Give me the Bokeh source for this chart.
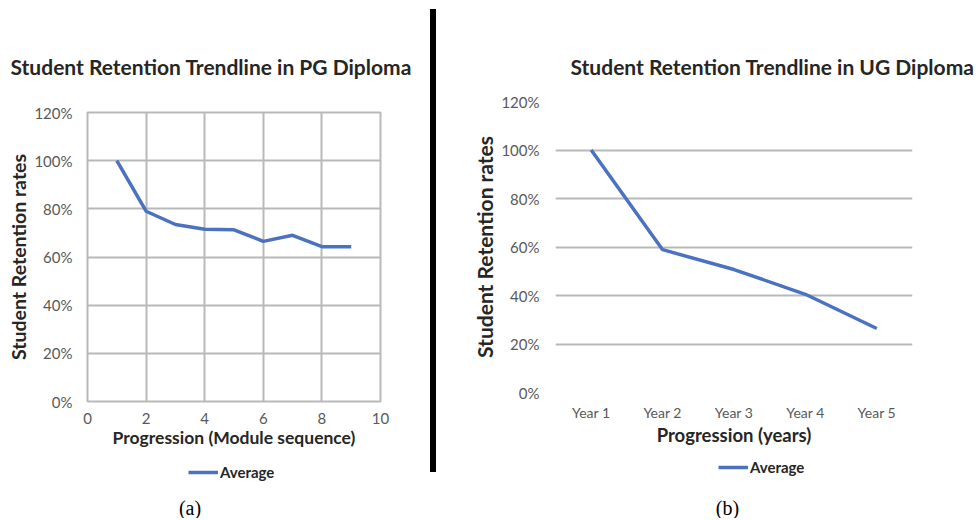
from bokeh.plotting import figure
from bokeh.models import (Range1d, FactorRange, FixedTicker, NumeralTickFormatter,
                          Legend, LegendItem, Div, Label)
from bokeh.layouts import row, column
from bokeh.embed import file_html
from bokeh.resources import INLINE

# ---- data ----
pg_module = [1, 2, 3, 4, 5, 6, 7, 8, 9]
pg_average = [1.00, 0.79, 0.735, 0.715, 0.713, 0.665, 0.69, 0.643, 0.643]
ug_years = ["Year 1", "Year 2", "Year 3", "Year 4", "Year 5"]
ug_average = [1.00, 0.589, 0.507, 0.405, 0.264]
y_ticks = [0, 0.2, 0.4, 0.6, 0.8, 1.0, 1.2]
pg_x_ticks = [0, 2, 4, 6, 8, 10]

FONT = "Lato"
GRID = "#b9b9b9"
BLUE = "#4a72c0"
TICK_C = "#595959"
LABEL_C = "#262626"
HEAD_H = 92


def blank(width, height, x_range):
    # y range far away so that the legend's source line stays out of view
    f = figure(frame_width=width, frame_height=height, x_range=x_range, y_range=Range1d(-1000, -999),
               output_backend="svg", toolbar_location=None, min_border=0,
               x_axis_location=None, y_axis_location=None)
    f.grid.visible = False
    f.outline_line_color = None
    f.background_fill_color = "white"
    f.border_fill_color = "white"
    return f


def header(width, text, x, y):
    h = blank(width, HEAD_H, Range1d(0, 1))
    h.add_layout(Label(x=x, y=y, x_units="screen", y_units="screen", text=text,
                       text_align="left", text_baseline="middle",
                       text_font=FONT, text_font_size="21px", text_font_style="bold",
                       text_color=LABEL_C))
    return h


def footer(width, height, x_range, xs, ys, leg_xy, cap, cap_x):
    f = blank(width, height, x_range)
    r = f.line(xs, ys, line_color=BLUE, line_width=3.5)
    leg = Legend(items=[LegendItem(label="Average", renderers=[r])],
                 orientation="horizontal", location=leg_xy,
                 border_line_color=None, background_fill_alpha=0,
                 label_text_font=FONT, label_text_font_style="bold",
                 label_text_font_size="15px", label_text_color=LABEL_C,
                 glyph_width=30, glyph_height=20, label_height=20,
                 label_standoff=2, padding=0, margin=0)
    f.add_layout(leg, "center")
    f.add_layout(Label(x=cap_x, y=11, x_units="screen", y_units="screen",
                       text=cap, text_align="center", text_baseline="middle",
                       text_font="Liberation Serif", text_font_size="20px",
                       text_color="black"))
    return f


def base_style(p, ylabel_size, xlabel_size):
    p.background_fill_color = "white"
    p.border_fill_color = "white"
    for ax in (p.xaxis[0], p.yaxis[0]):
        ax.axis_line_color = None
        ax.major_tick_line_color = None
        ax.minor_tick_line_color = None
        ax.major_label_text_font = FONT
        ax.major_label_text_color = TICK_C
        ax.axis_label_text_font = FONT
        ax.axis_label_text_font_style = "bold"
        ax.axis_label_text_color = LABEL_C
    p.xaxis[0].axis_label_text_font_size = xlabel_size
    p.xaxis[0].axis_label_standoff = 0
    p.yaxis[0].axis_label_text_font_size = ylabel_size
    p.yaxis[0].axis_label_standoff = 1
    p.yaxis[0].ticker = FixedTicker(ticks=y_ticks)
    p.yaxis[0].formatter = NumeralTickFormatter(format="0%")
    p.yaxis[0].major_label_text_font_size = "15px"
    p.yaxis[0].major_label_standoff = 9
    p.ygrid.grid_line_color = GRID
    p.ygrid.grid_line_width = 2


# ---- left chart (a) ----
p1 = figure(frame_width=293, frame_height=289, x_range=Range1d(0, 10), y_range=Range1d(0, 1.2),
            output_backend="svg", toolbar_location=None,
            min_border_left=87, min_border_right=50, min_border_top=20, min_border_bottom=52)
base_style(p1, "19.5px", "17.5px")
p1.xaxis[0].ticker = FixedTicker(ticks=pg_x_ticks)
p1.xaxis[0].major_label_text_font_size = "15px"
p1.xaxis[0].axis_label = "Progression (Module sequence)"
p1.yaxis[0].axis_label = "Student Retention rates"
p1.xgrid.grid_line_color = GRID
p1.xgrid.grid_line_width = 2
p1.outline_line_color = GRID
p1.outline_line_width = 2
p1.line(pg_module, pg_average, line_color=BLUE, line_width=3.5)

# footer top at 92 + 20 + 289 + 52 = 453, bottom at 518
left = column(row(header(430, "Student Retention Trendline in PG Diploma", 10, HEAD_H - 66)),
              row(p1),
              row(footer(430, 65, Range1d(0, 10), pg_module, pg_average, (188, 36), "(a)", 189.5)))

# ---- divider ----
div = Div(width=6, height=463, margin=(9, 0, 0, 0), styles={"background-color": "black"})

# ---- right chart (b) ----
p2 = figure(frame_width=357, frame_height=291, x_range=FactorRange(factors=ug_years),
            y_range=Range1d(0, 1.2),
            output_backend="svg", toolbar_location=None,
            min_border_left=119, min_border_right=62, min_border_top=9, min_border_bottom=56)
base_style(p2, "21px", "18.5px")
p2.xaxis[0].major_label_text_font_size = "14px"
p2.xaxis[0].axis_label = "Progression (years)"
p2.yaxis[0].axis_label = "Student Retention rates"
p2.yaxis[0].major_label_standoff = 10
p2.xgrid.grid_line_color = None
p2.outline_line_color = None
p2.line(ug_years, ug_average, line_color=BLUE, line_width=3.5)

# footer top at 92 + 9 + 291 + 56 = 448, bottom at 518
right = column(row(header(538, "Student Retention Trendline in UG Diploma", 134, HEAD_H - 66)),
               row(p2),
               row(footer(538, 70, FactorRange(factors=ug_years), ug_years, ug_average,
                          (282, 41), "(b)", 291)))

layout = row(left, div, right)
open("out.html", "w").write(file_html(layout, INLINE))
